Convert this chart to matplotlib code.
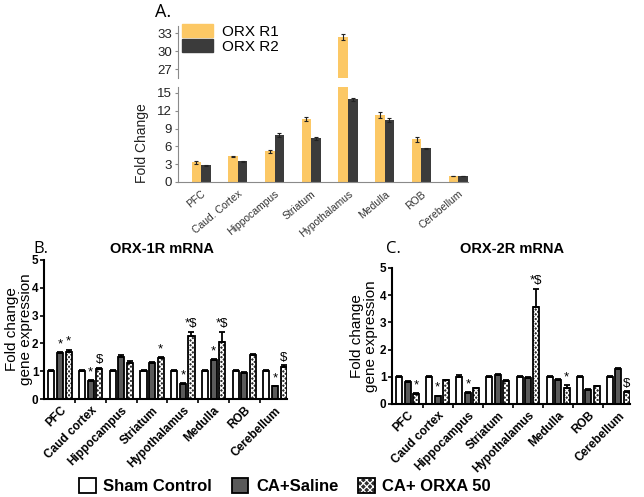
import numpy as np
import matplotlib
matplotlib.use('Agg')
import matplotlib.pyplot as plt
from matplotlib.patches import Patch

plt.rcParams['font.family'] = ['Liberation Sans', 'DejaVu Sans']
plt.rcParams['hatch.linewidth'] = 0.9

# ---- data ----
regions_a = ['PFC', 'Caud. Cortex', 'Hippocampus', 'Striatum', 'Hypothalamus', 'Medulla', 'ROB', 'Cerebellum']
r1_vals = [3.3, 4.3, 5.2, 10.6, 32.3, 11.3, 7.2, 1.0]
r1_err = [0.2, 0.15, 0.25, 0.35, 0.5, 0.45, 0.45, 0.05]
r2_vals = [2.8, 3.5, 7.9, 7.4, 13.9, 10.4, 5.7, 1.0]
r2_err = [0.1, 0.1, 0.3, 0.25, 0.3, 0.3, 0.1, 0.05]

regions_bc = ['PFC', 'Caud cortex', 'Hippocampus', 'Striatum', 'Hypothalamus', 'Medulla', 'ROB', 'Cerebellum']
groups = ['Sham Control', 'CA+Saline', 'CA+ ORXA 50']

b_sham = [1.0, 1.0, 1.0, 1.0, 1.0, 1.0, 1.0, 1.0]
b_sham_err = [0.03, 0.03, 0.03, 0.03, 0.03, 0.03, 0.03, 0.03]
b_saline = [1.65, 0.65, 1.5, 1.3, 0.55, 1.4, 0.95, 0.45]
b_saline_err = [0.05, 0.03, 0.08, 0.03, 0.03, 0.04, 0.02, 0.03]
b_orxa = [1.68, 1.07, 1.28, 1.47, 2.27, 2.05, 1.6, 1.15]
b_orxa_err = [0.1, 0.06, 0.07, 0.05, 0.15, 0.37, 0.03, 0.06]
b_saline_sig = ['*', '*', '', '', '*', '*', '', '*']
b_orxa_sig = ['*', '$', '', '*', '*$', '*$', '', '$']

c_sham = [1.0, 1.0, 1.0, 1.0, 1.0, 1.0, 1.0, 1.0]
c_sham_err = [0.03, 0.03, 0.05, 0.03, 0.03, 0.03, 0.03, 0.03]
c_saline = [0.82, 0.28, 0.4, 1.05, 0.95, 0.9, 0.52, 1.28]
c_saline_err = [0.02, 0.03, 0.04, 0.05, 0.06, 0.02, 0.02, 0.03]
c_orxa = [0.35, 0.88, 0.57, 0.85, 3.58, 0.6, 0.65, 0.43]
c_orxa_err = [0.05, 0.02, 0.03, 0.02, 0.65, 0.1, 0.02, 0.04]
c_saline_sig = ['', '*', '*', '', '', '', '', '']
c_orxa_sig = ['*', '', '', '', '*$', '*', '', '$']

W, H = 644, 497
fig = plt.figure(figsize=(W / 100, H / 100), dpi=100)


def ax_px(x0, y0, x1, y1):
    return fig.add_axes([x0 / W, 1 - y1 / H, (x1 - x0) / W, (y1 - y0) / H])


# ---- panel A (broken axis) ----
yellow = '#fcc865'
dark = '#3b3b3b'
gray = '#8a8a8a'
x = np.arange(len(regions_a))
bw = 0.26
ax_top = ax_px(178, 26, 468, 78)
ax_bot = ax_px(178, 87, 468, 182)
for ax in (ax_top, ax_bot):
    ax.bar(x - bw / 2, r1_vals, bw, color=yellow, yerr=r1_err, capsize=1.5,
           error_kw=dict(lw=0.8, capthick=0.8, ecolor='#222222'))
    ax.bar(x + bw / 2, r2_vals, bw, color=dark, yerr=r2_err, capsize=1.5,
           error_kw=dict(lw=0.8, capthick=0.8, ecolor='#222222'))
    ax.set_xlim(-0.63, 7.27)
    for s in ('top', 'right'):
        ax.spines[s].set_visible(False)
    ax.spines['left'].set_color(gray)
    ax.spines['bottom'].set_color(gray)
    ax.tick_params(axis='y', length=2.5, color=gray, labelsize=9.5, pad=2, labelcolor='#222222')
ax_top.set_ylim(25.5, 34.2)
ax_top.set_yticks([27, 30, 33])
ax_top.spines['bottom'].set_visible(False)
ax_top.set_xticks([])
ax_bot.set_ylim(0, 16)
ax_bot.set_yticks([0, 3, 6, 9, 12, 15])
ax_bot.set_xticks(x)
ax_bot.set_xticklabels(regions_a, rotation=40, ha='right', rotation_mode='anchor',
                       fontsize=7.5, color='#333333')
ax_bot.tick_params(axis='x', length=0, pad=5)
ax_bot.set_ylabel('Fold Change', fontsize=10, color='#222222')
ax_bot.yaxis.set_label_coords(-0.1, 0.41)
fig.text(155 / W, 1 - 12 / H, 'A.', fontsize=13, family=['Open Sans', 'DejaVu Sans'],
         va='center', ha='left')
ax_top.legend([Patch(color=yellow), Patch(color=dark)], ['ORX R1', 'ORX R2'],
              loc='upper left', bbox_to_anchor=(182 / W, 1 - 24 / H),
              bbox_transform=fig.transFigure, frameon=False, fontsize=11,
              handlelength=2.0, handleheight=0.9, handletextpad=0.6,
              labelspacing=0.05, borderpad=0, borderaxespad=0)

# ---- panels B and C ----
bar_w = 0.2
off = 0.28
hatch_face = '#2e2e2e'


def draw_panel(box, sham, sham_err, saline, saline_err, orxa, orxa_err,
               saline_sig, orxa_sig, title, title_x, letter, letter_x, ylabel_x):
    ax = ax_px(*box)
    xs = np.arange(len(regions_bc))
    ekw = dict(lw=1.3, capthick=1.3, ecolor='black')
    ax.bar(xs - off, sham, bar_w, color='white', edgecolor='black', lw=1.3,
           yerr=[np.zeros(8), sham_err], capsize=2, error_kw=ekw)
    ax.bar(xs, saline, bar_w, color='#5a5a5a', edgecolor='black', lw=1.3,
           yerr=[np.zeros(8), saline_err], capsize=2, error_kw=ekw)
    ax.bar(xs + off, orxa, bar_w, color=hatch_face, edgecolor='white', lw=0,
           hatch='xxxxxxx')
    ax.bar(xs + off, orxa, bar_w, fill=False, edgecolor='black', lw=1.3,
           yerr=[np.zeros(8), orxa_err], capsize=2, error_kw=ekw)
    for i in range(len(xs)):
        if saline_sig[i]:
            ax.text(xs[i], saline[i] + saline_err[i] + 0.06, saline_sig[i],
                    ha='center', va='bottom', fontsize=9.5)
        if orxa_sig[i]:
            ax.text(xs[i] + off, orxa[i] + orxa_err[i] + 0.06, orxa_sig[i],
                    ha='center', va='bottom', fontsize=9.5)
    ax.set_xlim(-0.52, 7.39)
    ax.set_ylim(0, 5)
    ax.set_yticks(range(6))
    ax.set_xticks(xs)
    ax.set_xticks(xs[:-1] + 0.5, minor=True)
    ax.set_xticklabels(regions_bc, rotation=45, ha='right', rotation_mode='anchor',
                       fontsize=8.5, fontweight='bold')
    ax.tick_params(axis='x', which='major', length=0, pad=4)
    ax.tick_params(axis='x', which='minor', length=3, width=1.2)
    ax.tick_params(axis='y', length=3, width=1.2, labelsize=8.5, pad=1)
    for lab in ax.get_yticklabels():
        lab.set_fontweight('bold')
    for s in ('top', 'right'):
        ax.spines[s].set_visible(False)
    for s in ('left', 'bottom'):
        ax.spines[s].set_linewidth(1.5)
    fig.text(ylabel_x / W, 1 - (box[1] + box[3]) / 2 / H, 'Fold change\ngene expression',
             rotation=90, ha='center', va='center', fontsize=11, linespacing=1.05)
    fig.text(title_x / W, 1 - 249 / H, title, ha='center', va='center',
             fontsize=10.5, fontweight='bold')
    fig.text(letter_x / W, 1 - 249 / H, letter, ha='left', va='center',
             fontsize=12, family=['Open Sans', 'DejaVu Sans'])
    return ax


draw_panel((44, 260, 287, 399), b_sham, b_sham_err, b_saline, b_saline_err,
           b_orxa, b_orxa_err, b_saline_sig, b_orxa_sig,
           'ORX-1R mRNA', 162, 'B.', 33, 19)
draw_panel((392, 268, 630, 404), c_sham, c_sham_err, c_saline, c_saline_err,
           c_orxa, c_orxa_err, c_saline_sig, c_orxa_sig,
           'ORX-2R mRNA', 512, 'C.', 386, 364)

# ---- shared legend ----
h_sham = Patch(facecolor='white', edgecolor='black', lw=1.3)
h_saline = Patch(facecolor='#5a5a5a', edgecolor='black', lw=1.3)
h_orxa = (Patch(facecolor=hatch_face, edgecolor='white', lw=0, hatch='xxxxx'),
          Patch(fill=False, edgecolor='black', lw=1.3))
fig.legend([h_sham, h_saline, h_orxa], groups, loc='center',
           bbox_to_anchor=(285 / W, 1 - 486 / H), ncol=3, frameon=False,
           prop=dict(weight='bold', size=12), handlelength=1.0, handleheight=1.0,
           handletextpad=0.45, columnspacing=1.2, borderpad=0)

fig.savefig('out.png', dpi=100)
